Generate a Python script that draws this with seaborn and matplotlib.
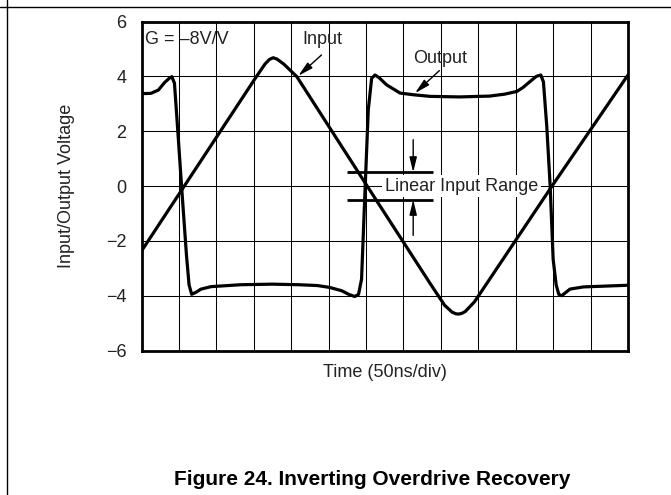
import numpy as np
import pandas as pd
import seaborn as sns
import matplotlib.pyplot as plt
from matplotlib.lines import Line2D

# ===============================
# 1. DATA (time in divisions, volts)
# ===============================
input_t = [0.0, 3.05, 3.3, 3.42, 3.52, 3.62, 3.8, 4.15, 6.03, 7.71,
           8.1, 8.3, 8.4, 8.47, 8.55, 8.65, 8.9, 10.97, 13.0]
input_v = [-2.37, 3.95, 4.45, 4.62, 4.68, 4.63, 4.45, 3.99, 0.0, -3.55,
           -4.35, -4.6, -4.66, -4.67, -4.65, -4.58, -4.22, 0.0, 4.05]

output_t = [0.0, 0.25, 0.45, 0.62, 0.75, 0.81, 0.88, 0.95, 1.07, 1.2,
            1.27, 1.34, 1.45, 1.59, 1.86, 2.66, 3.5, 4.2, 4.7, 5.03,
            5.35, 5.55, 5.7, 5.8, 5.88, 5.97, 6.06, 6.15, 6.24, 6.35,
            6.55, 6.91, 7.26, 7.71, 8.5, 9.3, 9.7, 10.03, 10.2, 10.38,
            10.55, 10.67, 10.74, 10.83, 10.92, 11.0, 11.08, 11.15, 11.23, 11.45,
            11.81, 13.0]
output_v = [3.37, 3.38, 3.5, 3.78, 3.94, 3.99, 3.75, 2.4, 0.0, -2.5,
            -3.6, -3.95, -3.88, -3.76, -3.67, -3.6, -3.58, -3.6, -3.63, -3.7,
            -3.82, -3.96, -4.03, -3.95, -3.4, -0.25, 2.78, 3.93, 4.05, 3.95,
            3.69, 3.39, 3.33, 3.27, 3.25, 3.28, 3.35, 3.45, 3.6, 3.81,
            4.0, 4.05, 3.8, 2.17, 0.0, -2.67, -3.6, -3.95, -4.0, -3.76,
            -3.68, -3.62]

y_ticks = [-6, -4, -2, 0, 2, 4, 6]
n_div = 13
range_lo, range_hi = -0.5, 0.5

df = pd.concat([
    pd.DataFrame({"t": input_t, "v": input_v, "trace": "Input"}),
    pd.DataFrame({"t": output_t, "v": output_v, "trace": "Output"}),
])

# ===============================
# 2. STYLE
# ===============================
sns.set_theme(style="white")
plt.rcParams["font.family"] = ["Liberation Sans", "DejaVu Sans"]
plt.rcParams["font.size"] = 13
txt = "#222222"

fig = plt.figure(figsize=(6.71, 4.95), dpi=100)
ax = fig.add_axes([0.2109, 0.2919, 0.725, 0.6646])

# ===============================
# 3. TRACES
# ===============================
sns.lineplot(data=df, x="t", y="v", units="trace", estimator=None,
             color="black", lw=2.3, sort=False, ax=ax, zorder=3)

ax.set_xlim(0, n_div)
ax.set_ylim(-6, 6)
ax.set_xticks(range(n_div + 1))
ax.set_xticklabels([])
ax.set_yticks(y_ticks)
ax.tick_params(length=0, pad=10.8, labelsize=13, labelcolor=txt)
ax.grid(True, color="black", lw=0.75)
ax.set_axisbelow(True)
for s in ax.spines.values():
    s.set_color("black")
    s.set_linewidth(2.0)

ax.set_xlabel("Time (50ns/div)", fontsize=13, color=txt)
ax.set_ylabel("Input/Output Voltage", fontsize=13, color=txt)
ax.xaxis.set_label_coords(0.5, -0.041)
ax.yaxis.set_label_coords(-0.1357, 0.5)

# ===============================
# 4. ANNOTATIONS
# ===============================
arrow = dict(arrowstyle="-|>,head_length=0.9,head_width=0.22", color="black",
             lw=1.0, mutation_scale=10, shrinkA=0, shrinkB=0)

ax.text(0.1, 5.33, "G = \u20138V/V", ha="left", va="center", color=txt, fontsize=13)
ax.text(4.84, 5.33, "Input", ha="center", va="center", color=txt, fontsize=13)
ax.annotate("", xy=(4.19, 4.02), xytext=(4.81, 4.78), arrowprops=arrow)
ax.text(7.97, 4.66, "Output", ha="center", va="center", color=txt, fontsize=13)
ax.annotate("", xy=(7.31, 3.39), xytext=(7.96, 4.21), arrowprops=arrow)

ax.hlines([range_lo, range_hi], 5.49, 7.78, color="black", lw=2.0, zorder=3)
ax.annotate("", xy=(7.26, range_hi), xytext=(7.26, 1.69), arrowprops=arrow, zorder=3)
ax.annotate("", xy=(7.26, range_lo), xytext=(7.26, -1.8), arrowprops=arrow, zorder=3)
ax.text(8.55, 0, "Linear Input Range", ha="center", va="center", color=txt,
        fontsize=13, zorder=2.5,
        bbox=dict(boxstyle="square,pad=0.15", fc="white", ec="none"))

# page frame and caption
fig.add_artist(Line2D([0, 1], [0.986, 0.986], transform=fig.transFigure, color="black", lw=1.0))
fig.add_artist(Line2D([0.0104, 0.0104], [0, 1], transform=fig.transFigure, color="black", lw=1.0))
fig.text(0.554, 0.032, "Figure 24. Inverting Overdrive Recovery", ha="center", va="center",
         fontsize=15, fontweight="bold", color="black")

fig.savefig("out.png", dpi=100)
